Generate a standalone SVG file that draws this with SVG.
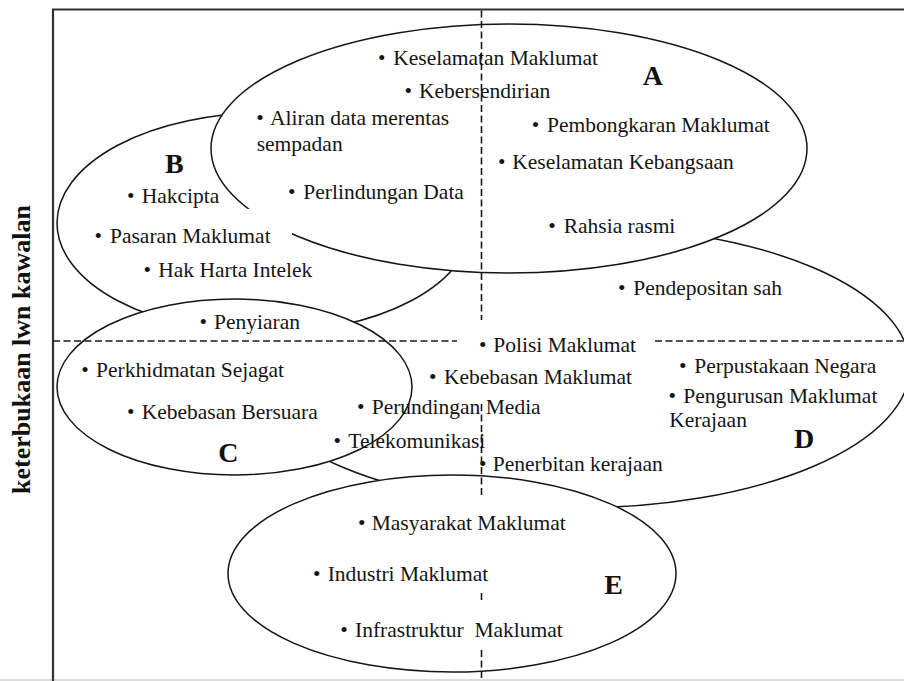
<svg xmlns="http://www.w3.org/2000/svg" width="904" height="681" viewBox="0 0 904 681">
<style>
.reg{fill:#fff;stroke:#151515;stroke-width:1.5}
.t{font-family:"Liberation Serif","Times New Roman",serif;font-size:21.5px;fill:#141414}
.L{font-family:"Liberation Serif","Times New Roman",serif;font-size:28px;font-weight:bold;fill:#111}
.ax{stroke:#1a1a1a;stroke-width:1.6;stroke-dasharray:7 3.5;fill:none}
.bg{fill:#fff}
</style>
<rect width="904" height="681" fill="#fff"/>
<rect x="0" y="679" width="904" height="2" fill="#dcdcdc"/>
<path d="M53 681 V9.5 H904" fill="none" stroke="#333" stroke-width="2.2"/>
<text transform="translate(30,349.5) rotate(-90)" text-anchor="middle" font-family="'Liberation Serif','Times New Roman',serif" font-size="26" font-weight="bold" fill="#111">keterbukaan lwn kawalan</text>

<g id="regions">
  <g id="node-D"><ellipse class="reg" cx="577" cy="367" rx="333" ry="141"/><text class="L" x="794" y="448.3">D</text></g>
  <g id="node-B"><ellipse class="reg" cx="264.5" cy="223" rx="207.5" ry="110"/><text class="L" x="165" y="172.7">B</text></g>
  <g id="node-A"><ellipse class="reg" cx="509" cy="148.5" rx="298" ry="124.5"/><text class="L" x="642.7" y="85">A</text></g>
  <g id="node-C"><ellipse class="reg" cx="234.5" cy="387" rx="177.5" ry="88"/><text class="L" x="218.3" y="461.7">C</text></g>
  <g id="node-E"><ellipse class="reg" cx="452" cy="573.5" rx="224" ry="98.5"/><text class="L" x="604.3" y="594">E</text></g>
</g>

<g id="connectors">
  <path class="ax" d="M481.5 10.5 V320 M481.5 404 V497 M481.5 593 V603 M481.5 650 V679"/>
  <path class="ax" d="M53 341 H457 M655 341 H904"/>
</g>

<g id="items">
  <rect class="bg" x="88" y="209" width="204" height="42"/>
  <g id="items-A">
    <text class="t" x="378" y="65">•<tspan x="393.3">Keselamatan Maklumat</tspan></text>
    <text class="t" x="404.5" y="98.3">•<tspan x="419">Kebersendirian</tspan></text>
    <text class="t" x="256.2" y="125">•<tspan x="270">Aliran data merentas</tspan></text>
    <text class="t" x="256.7" y="151">sempadan</text>
    <text class="t" x="288" y="198.5">•<tspan x="303.3">Perlindungan Data</tspan></text>
    <text class="t" x="531.8" y="132">•<tspan x="547">Pembongkaran Maklumat</tspan></text>
    <text class="t" x="498" y="169">•<tspan x="512.3">Keselamatan Kebangsaan</tspan></text>
    <text class="t" x="548.3" y="232.7">•<tspan x="563.7">Rahsia rasmi</tspan></text>
  </g>
  <g id="items-B">
    <text class="t" x="127" y="203.3">•<tspan x="141.7">Hakcipta</tspan></text>
    <text class="t" x="94.6" y="242.7">•<tspan x="110">Pasaran Maklumat</tspan></text>
    <text class="t" x="143.6" y="277.3">•<tspan x="158.3">Hak Harta Intelek</tspan></text>
  </g>
  <g id="items-C">
    <text class="t" x="199.6" y="329.3">•<tspan x="214">Penyiaran</tspan></text>
    <text class="t" x="81.3" y="376.7">•<tspan x="96">Perkhidmatan Sejagat</tspan></text>
    <text class="t" x="127" y="419.3">•<tspan x="141.7">Kebebasan Bersuara</tspan></text>
  </g>
  <g id="items-D">
    <text class="t" x="618" y="295">•<tspan x="633.3">Pendepositan sah</tspan></text>
    <text class="t" x="479" y="351.7">•<tspan x="493.3">Polisi Maklumat</tspan></text>
    <text class="t" x="429" y="384">•<tspan x="444">Kebebasan Maklumat</tspan></text>
    <text class="t" x="679" y="373.3">•<tspan x="694.3">Perpustakaan Negara</tspan></text>
    <text class="t" x="668.6" y="403.3">•<tspan x="683.3">Pengurusan Maklumat</tspan></text>
    <text class="t" x="669.3" y="427.3">Kerajaan</text>
    <text class="t" x="357" y="414">•<tspan x="371.7">Perundingan Media</tspan></text>
    <text class="t" x="333.6" y="447.5">•<tspan x="348.3">Telekomunikasi</tspan></text>
    <text class="t" x="479" y="470.5">•<tspan x="492.7">Penerbitan kerajaan</tspan></text>
  </g>
  <g id="items-E">
    <text class="t" x="358" y="530">•<tspan x="371.7">Masyarakat Maklumat</tspan></text>
    <text class="t" x="313" y="580.7">•<tspan x="327.7">Industri Maklumat</tspan></text>
    <text class="t" x="340.3" y="636.7" style="white-space:pre">•<tspan x="355">Infrastruktur  Maklumat</tspan></text>
  </g>
</g>
</svg>
